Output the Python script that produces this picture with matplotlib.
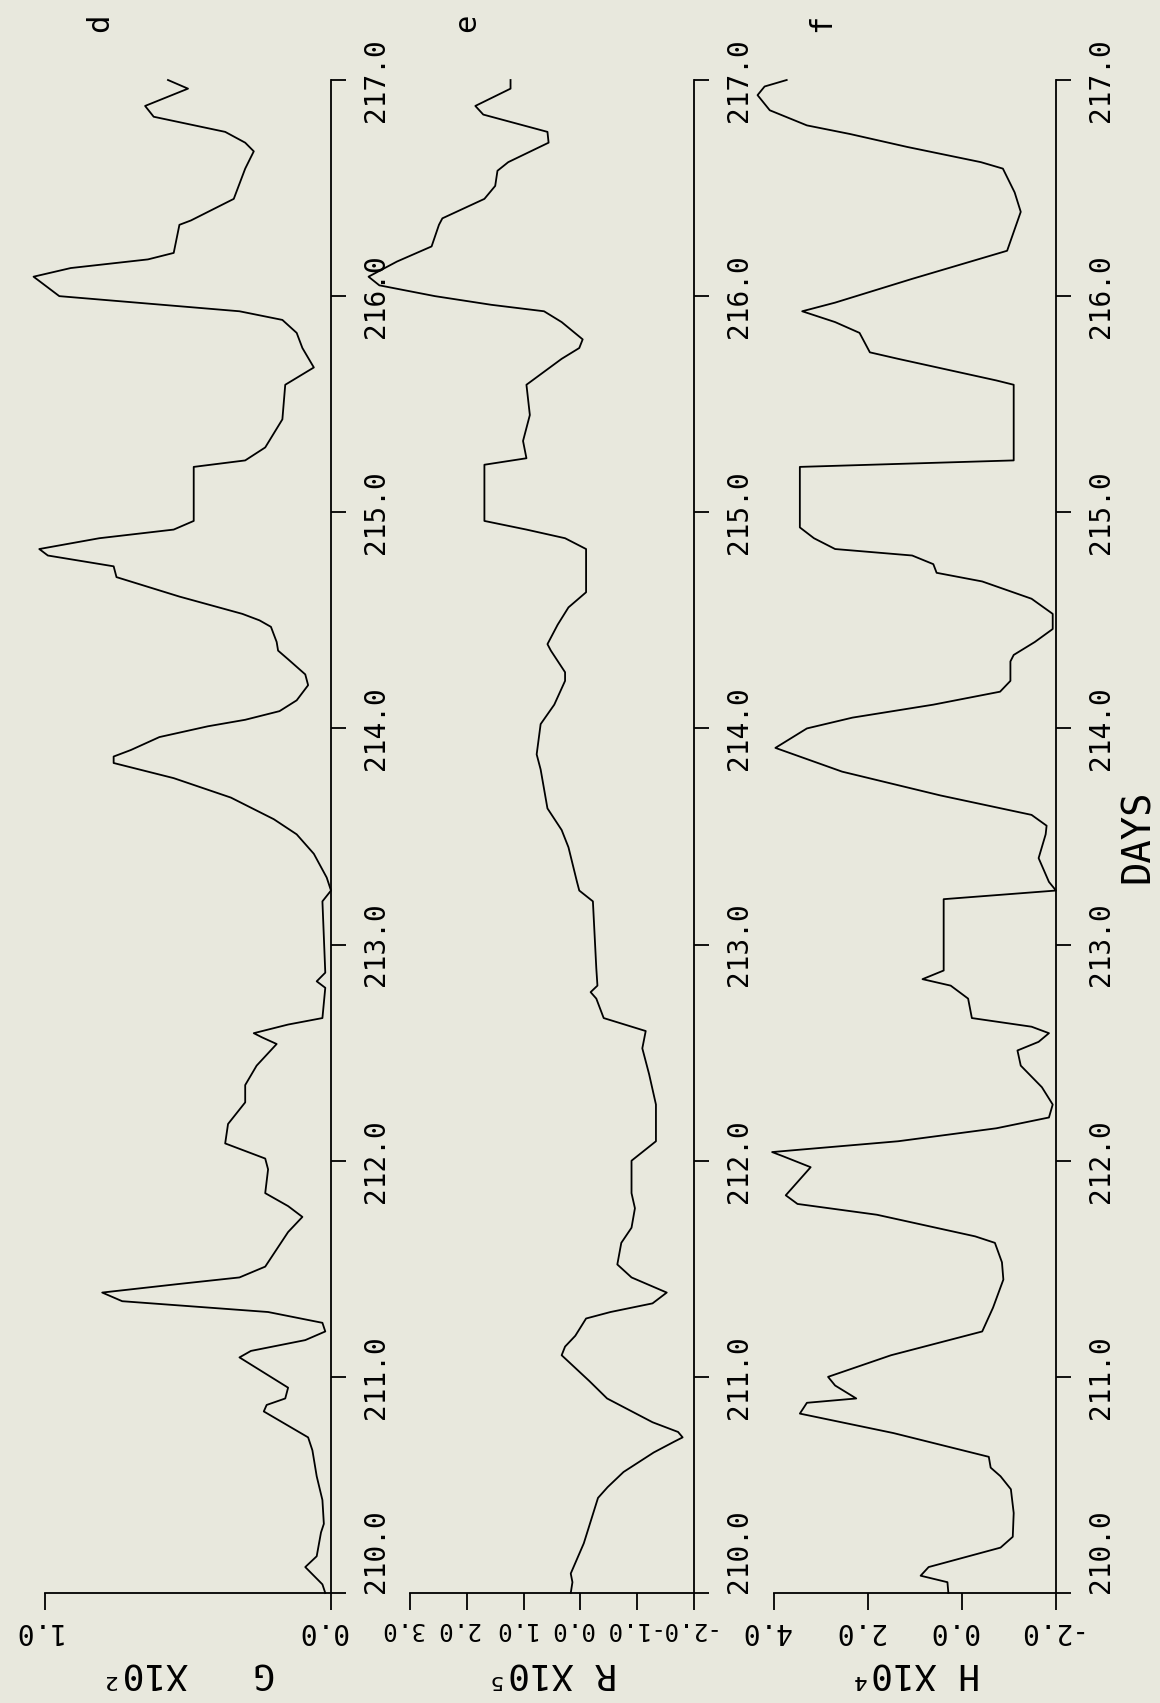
import matplotlib.pyplot as plt
import matplotlib.transforms as mtransforms

plt.rcParams['font.family'] = ['DejaVu Sans Mono', 'DejaVu Sans']
plt.rcParams['axes.unicode_minus'] = False

# panel d : G x10^2
g_days = [210.00, 210.04, 210.12, 210.17, 210.28, 210.32, 210.43, 210.54, 210.66, 210.72,
          210.84, 210.87, 210.90, 210.95, 211.09, 211.12, 211.17, 211.21, 211.25, 211.30,
          211.35, 211.39, 211.43, 211.46, 211.51, 211.61, 211.67, 211.74, 211.79, 211.85,
          211.96, 212.01, 212.08, 212.17, 212.27, 212.35, 212.44, 212.54, 212.57, 212.59,
          212.63, 212.66, 212.80, 212.83, 212.87, 213.20, 213.25, 213.31, 213.42, 213.51,
          213.58, 213.68, 213.77, 213.84, 213.87, 213.90, 213.96, 214.01, 214.04, 214.08,
          214.13, 214.20, 214.25, 214.32, 214.36, 214.40, 214.47, 214.50, 214.53, 214.61,
          214.70, 214.75, 214.80, 214.83, 214.88, 214.92, 214.96, 215.21, 215.24, 215.30,
          215.43, 215.59, 215.67, 215.76, 215.83, 215.89, 215.93, 216.00, 216.09, 216.13,
          216.17, 216.20, 216.33, 216.35, 216.45, 216.59, 216.67, 216.71, 216.76, 216.83,
          216.88, 216.96, 217.00]
g_vals = [0.02, 0.03, 0.09, 0.05, 0.035, 0.025, 0.03, 0.05, 0.065, 0.08,
          0.235, 0.225, 0.16, 0.15, 0.32, 0.28, 0.09, 0.02, 0.03, 0.22,
          0.73, 0.80, 0.53, 0.32, 0.23, 0.18, 0.15, 0.10, 0.15, 0.23,
          0.22, 0.23, 0.37, 0.36, 0.30, 0.30, 0.26, 0.19, 0.24, 0.27,
          0.15, 0.03, 0.02, 0.05, 0.02, 0.03, 0.00, 0.015, 0.06, 0.12,
          0.20, 0.35, 0.55, 0.76, 0.76, 0.70, 0.60, 0.43, 0.30, 0.18,
          0.12, 0.08, 0.09, 0.15, 0.185, 0.19, 0.21, 0.25, 0.31, 0.53,
          0.75, 0.76, 0.99, 1.02, 0.81, 0.55, 0.48, 0.48, 0.30, 0.23,
          0.17, 0.16, 0.06, 0.10, 0.12, 0.17, 0.32, 0.95, 1.04, 0.91,
          0.64, 0.55, 0.53, 0.49, 0.34, 0.30, 0.27, 0.30, 0.37, 0.62,
          0.65, 0.50, 0.57]

# panel e : R x10^5
r_days = [210.00, 210.05, 210.09, 210.23, 210.44, 210.49, 210.56, 210.65, 210.70, 210.72,
          210.745, 210.79, 210.90, 210.98, 211.10, 211.14, 211.19, 211.27, 211.30, 211.34,
          211.39, 211.46, 211.52, 211.62, 211.69, 211.78, 211.85, 212.00, 212.09, 212.26,
          212.40, 212.52, 212.60, 212.66, 212.75, 212.78, 212.81, 212.89, 213.20, 213.25,
          213.29, 213.45, 213.53, 213.63, 213.81, 213.88, 214.02, 214.11, 214.22, 214.26,
          214.36, 214.39, 214.48, 214.56, 214.63, 214.83, 214.88, 214.92, 214.96, 215.22,
          215.25, 215.33, 215.45, 215.59, 215.65, 215.71, 215.76, 215.80, 215.88, 215.93,
          215.96, 216.00, 216.05, 216.09, 216.16, 216.23, 216.33, 216.36, 216.45, 216.51,
          216.58, 216.62, 216.71, 216.76, 216.84, 216.88, 216.96, 217.00]
r_vals = [0.17, 0.14, 0.17, -0.06, -0.31, -0.48, -0.76, -1.29, -1.65, -1.80,
          -1.72, -1.27, -0.47, -0.16, 0.33, 0.27, 0.09, -0.10, -0.53, -1.27,
          -1.52, -0.90, -0.65, -0.72, -0.90, -0.96, -0.90, -0.90, -1.33, -1.33,
          -1.21, -1.09, -1.15, -0.41, -0.28, -0.18, -0.30, -0.28, -0.22, 0.02,
          0.06, 0.21, 0.33, 0.58, 0.70, 0.77, 0.70, 0.46, 0.27, 0.27,
          0.52, 0.58, 0.40, 0.21, -0.10, -0.10, 0.27, 0.95, 1.69, 1.69,
          0.95, 1.01, 0.89, 0.95, 0.64, 0.33, 0.02, -0.04, 0.33, 0.64,
          1.57, 2.56, 3.54, 3.73, 3.23, 2.62, 2.49, 2.43, 1.69, 1.50,
          1.46, 1.27, 0.56, 0.58, 1.71, 1.85, 1.23, 1.23]

# panel f : H x10^4
h_days = [210.00, 210.05, 210.08, 210.12, 210.21, 210.26, 210.37, 210.48, 210.54, 210.58,
          210.63, 210.74, 210.83, 210.88, 210.90, 210.96, 211.00, 211.10, 211.21, 211.32,
          211.45, 211.53, 211.62, 211.65, 211.75, 211.80, 211.84, 211.97, 212.02, 212.04,
          212.09, 212.15, 212.20, 212.26, 212.34, 212.44, 212.51, 212.55, 212.59, 212.62,
          212.66, 212.75, 212.81, 212.84, 212.88, 213.21, 213.25, 213.29, 213.40, 213.51,
          213.55, 213.60, 213.69, 213.80, 213.91, 214.00, 214.05, 214.11, 214.17, 214.22,
          214.31, 214.34, 214.40, 214.46, 214.53, 214.60, 214.68, 214.72, 214.76, 214.80,
          214.83, 214.88, 214.93, 215.21, 215.24, 215.33, 215.59, 215.61, 215.71, 215.74,
          215.83, 215.88, 215.93, 215.97, 216.08, 216.21, 216.39, 216.48, 216.59, 216.62,
          216.69, 216.75, 216.79, 216.86, 216.93, 216.97, 217.00]
h_vals = [0.29, 0.31, 0.88, 0.71, -0.82, -1.08, -1.10, -1.04, -0.82, -0.61,
          -0.57, 1.46, 3.45, 3.30, 2.25, 2.70, 2.85, 1.51, -0.43, -0.66,
          -0.88, -0.85, -0.70, -0.28, 1.81, 3.50, 3.75, 3.22, 3.80, 4.04,
          1.36, -0.73, -1.85, -1.93, -1.70, -1.25, -1.18, -1.63, -1.85, -1.48,
          -0.21, -0.13, 0.24, 0.84, 0.39, 0.39, -2.00, -1.85, -1.63, -1.78,
          -1.80, -1.48, 0.46, 2.55, 3.97, 3.30, 2.33, 0.61, -0.81, -1.03,
          -1.03, -1.10, -1.55, -1.93, -1.93, -1.48, -0.43, 0.54, 0.61, 1.06,
          2.70, 3.15, 3.45, 3.45, -1.10, -1.10, -1.10, -0.73, 1.36, 1.96,
          2.18, 2.70, 3.40, 2.70, 1.06, -0.96, -1.25, -1.12, -0.87, -0.40,
          1.16, 2.38, 3.30, 4.09, 4.35, 4.20, 3.73]

day_ticks = [210.0, 211.0, 212.0, 213.0, 214.0, 215.0, 216.0, 217.0]
g_ticks = [0.0, 1.0]
r_ticks = [-2.0, -1.0, 0.0, 1.0, 2.0, 3.0]
h_ticks = [-2.0, 0.0, 2.0, 4.0]
panel_names = ['d', 'e', 'f']
axis_titles = ['G   X10\u00b2', 'R X10\u2075', 'H X10\u2074']

W, H = 1160, 1703
bg = '#e8e8dd'
fig = plt.figure(figsize=(W / 100, H / 100), dpi=100)
fig.patch.set_facecolor(bg)

# pixel boxes (left, width) of the three rotated panels
boxes = [(45, 286), (410, 284), (774, 282)]
series = [(g_vals, g_days, g_ticks, (1.0, 0.0)),
          (r_vals, r_days, r_ticks, (3.0, -2.0)),
          (h_vals, h_days, h_ticks, (4.0, -2.0))]
letter_x = [0.19, 0.20, 0.17]
value_size = [20, 17.5, 20]

axes = []
for i, ((x0, w), (vals, days, vticks, lim)) in enumerate(zip(boxes, series)):
    ax = fig.add_axes([x0 / W, 110 / H, w / W, 1513 / H])
    ax.set_facecolor('none')
    ax.plot(vals, days, color='black', lw=1.3, clip_on=False)
    ax.set_xlim(*lim)
    ax.set_ylim(210, 217)

    for s in ['top', 'left']:
        ax.spines[s].set_visible(False)
    for s in ['right', 'bottom']:
        ax.spines[s].set_linewidth(1.3)

    ax.yaxis.tick_right()
    ax.set_yticks(day_ticks)
    ax.set_yticklabels(['%.1f' % d for d in day_ticks], rotation=90, va='center')
    ax.get_yticklabels()[0].set_va('bottom')
    ax.set_xticks(vticks)
    ax.set_xticklabels(['%.1f' % v for v in vticks], rotation=180)
    ax.tick_params(axis='y', direction='out', length=11, width=1.3, pad=11, labelsize=20)
    ax.tick_params(axis='x', direction='out', length=12, width=1.3, pad=5,
                   labelsize=value_size[i])
    shift = mtransforms.ScaledTranslation(-0.09, 0, fig.dpi_scale_trans)
    for lab in ax.get_xticklabels():
        lab.set_transform(lab.get_transform() + shift)

    ax.text(0.5, -0.053, axis_titles[i], rotation=180, ha='center', va='center',
            fontsize=26, transform=ax.transAxes)
    ax.text(letter_x[i], 1.038, panel_names[i], rotation=90, ha='center', va='center',
            fontsize=22, transform=ax.transAxes)
    axes.append(ax)

axes[2].text(1.29, 0.5, 'DAYS', rotation=90, ha='center', va='center',
             fontsize=28, transform=axes[2].transAxes)

fig.savefig('out.png', dpi=100, facecolor=bg)
